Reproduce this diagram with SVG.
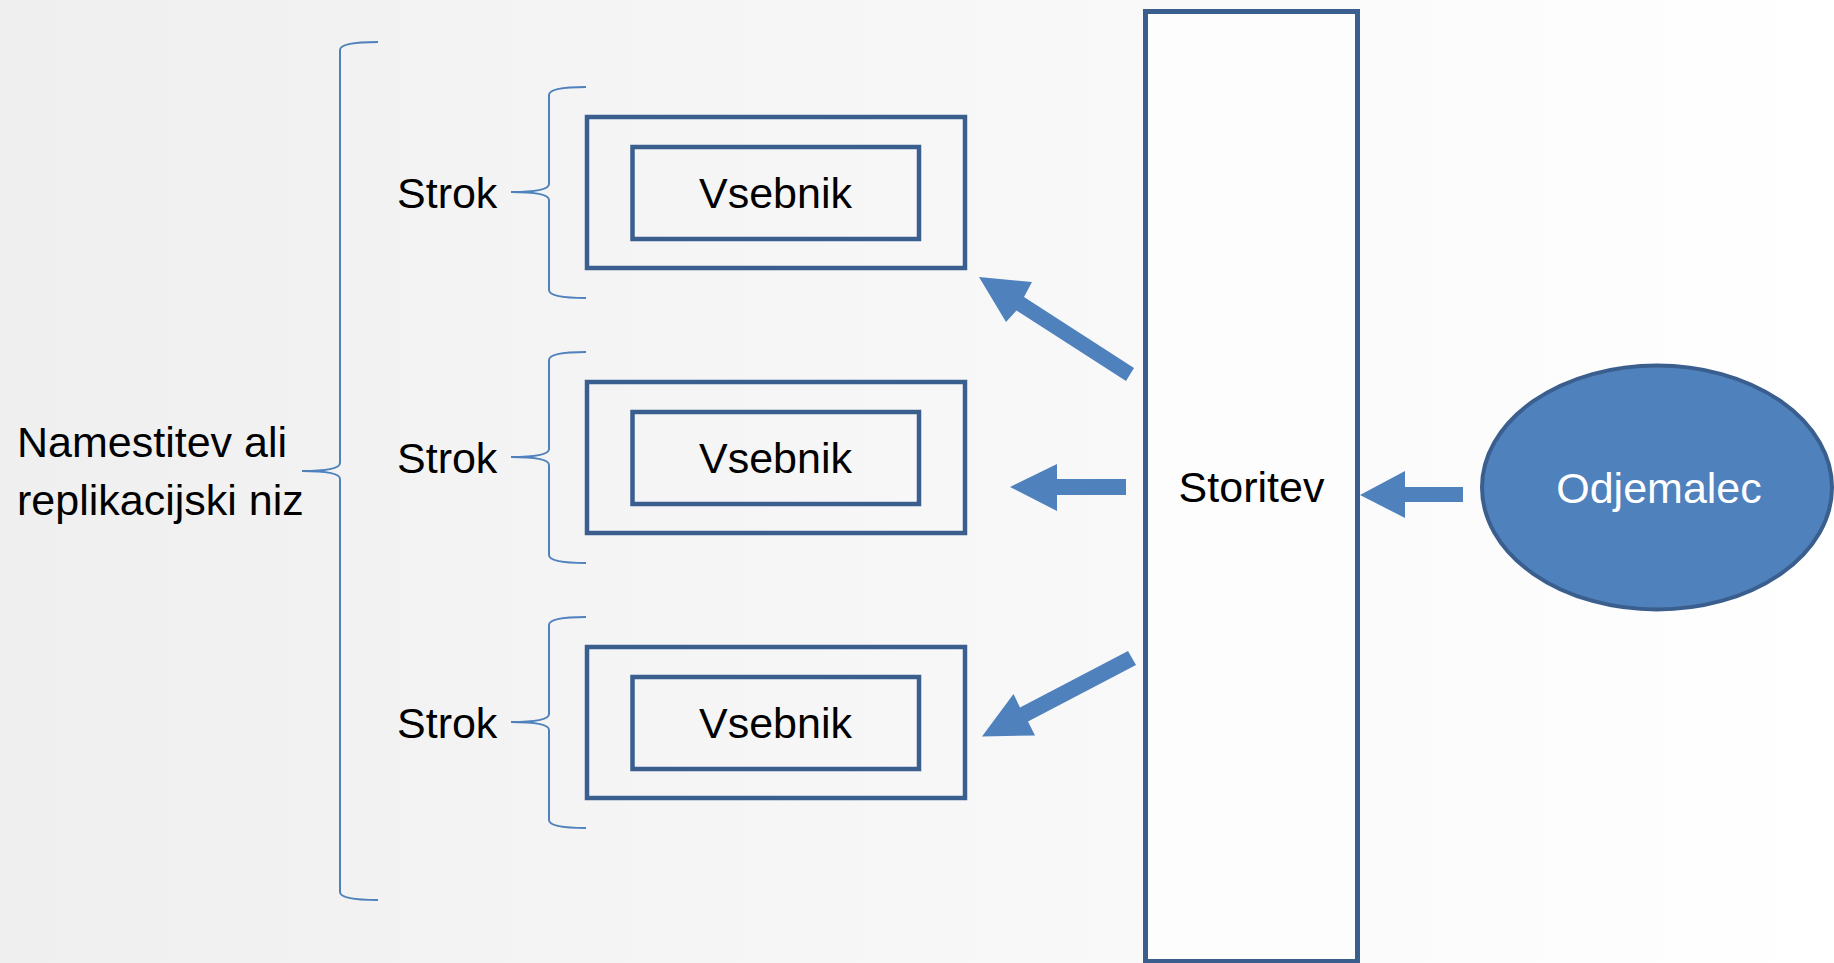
<svg xmlns="http://www.w3.org/2000/svg" width="1834" height="963" viewBox="0 0 1834 963">
<defs>
<linearGradient id="bg" x1="0" y1="0" x2="1" y2="0">
<stop offset="0" stop-color="#EFEFEF"/>
<stop offset="1" stop-color="#FFFFFF"/>
</linearGradient>
<style>
.t{font-family:"Liberation Sans",Arial,sans-serif;font-size:43px;fill:#000}
.c{text-anchor:middle}
.box{fill:none;stroke:#3A5F8E;stroke-width:4.5}
.brace{fill:none;stroke:#4F81BD;stroke-width:2}
.arrow{fill:#4F81BD;stroke:none}
</style>
</defs>
<rect x="0" y="0" width="1834" height="963" fill="url(#bg)"/>

<g id="deployment">
<path class="brace" d="M378,42 Q340,42 340,50 L340,463 Q340,471 302,471 Q340,471 340,479 L340,892 Q340,900 378,900"/>
<text class="t" x="17" y="457">Namestitev ali</text>
<text class="t" x="17" y="515">replikacijski niz</text>
</g>

<g id="pod1">
<path class="brace" d="M586,87 Q549,87 549,95 L549,184 Q549,192 511,192 Q549,192 549,200 L549,290 Q549,298 586,298"/>
<text class="t" x="397" y="208">Strok</text>
<rect class="box" x="587" y="117" width="378" height="151"/>
</g>
<g id="container1">
<rect class="box" x="632.5" y="147" width="286.5" height="92"/>
<text class="t c" x="775.5" y="208">Vsebnik</text>
</g>

<g id="pod2" transform="translate(0,265)">
<path class="brace" d="M586,87 Q549,87 549,95 L549,184 Q549,192 511,192 Q549,192 549,200 L549,290 Q549,298 586,298"/>
<text class="t" x="397" y="208">Strok</text>
<rect class="box" x="587" y="117" width="378" height="151"/>
</g>
<g id="container2" transform="translate(0,265)">
<rect class="box" x="632.5" y="147" width="286.5" height="92"/>
<text class="t c" x="775.5" y="208">Vsebnik</text>
</g>

<g id="pod3" transform="translate(0,530)">
<path class="brace" d="M586,87 Q549,87 549,95 L549,184 Q549,192 511,192 Q549,192 549,200 L549,290 Q549,298 586,298"/>
<text class="t" x="397" y="208">Strok</text>
<rect class="box" x="587" y="117" width="378" height="151"/>
</g>
<g id="container3" transform="translate(0,530)">
<rect class="box" x="632.5" y="147" width="286.5" height="92"/>
<text class="t c" x="775.5" y="208">Vsebnik</text>
</g>

<g id="service">
<rect x="1145.5" y="11.5" width="212" height="950" fill="#FDFDFD" stroke="#3A5F8E" stroke-width="5"/>
<text class="t c" x="1251.5" y="502">Storitev</text>
</g>

<g id="client">
<ellipse cx="1657" cy="487.5" rx="175" ry="122" fill="#4F81BD" stroke="#3A5F8E" stroke-width="4"/>
<text class="t c" x="1659" y="503" fill="#FFFFFF" style="fill:#FFFFFF">Odjemalec</text>
</g>

<g id="connectors">
<polygon class="arrow" points="1134,368 1024,297 1032,282 979,277 1006,322 1016.5,310.5 1126,381"/>
<polygon class="arrow" points="1126,479 1057,479 1057,464 1010,487 1057,511 1057,495 1126,495"/>
<polygon class="arrow" points="1128,651 1020,707.5 1013.5,694 982,736.5 1035,735.5 1028,721.5 1136,665"/>
<polygon class="arrow" points="1463,487 1405,487 1405,471 1360,495 1405,518 1405,502 1463,502"/>
</g>
</svg>
